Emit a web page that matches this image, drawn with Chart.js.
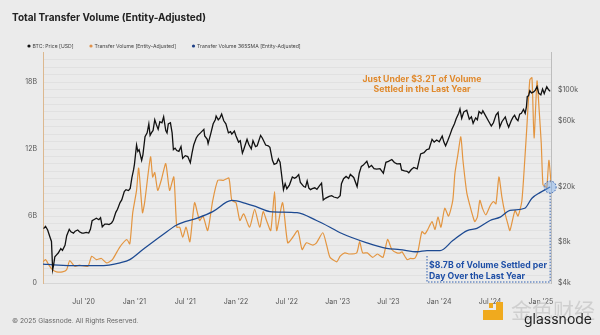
<!DOCTYPE html>
<html>
<head>
<meta charset="utf-8">
<script src="https://cdn.jsdelivr.net/npm/chart.js@4.4.1/dist/chart.umd.min.js"></script>
<style>
  html, body { margin: 0; padding: 0; background: #ebebeb; }
  #wrap { width: 600px; height: 335px; }
</style>
</head>
<body>
<div id="wrap"><canvas id="chart" width="600" height="335"></canvas></div>
<script>
// x values are months since Jan 2020 (6 = Jul '20, 60 = Jan '25)
const btcMonths = [1.27,1.5,1.75,2.0,2.2,2.34,2.45,2.6,2.8,3.0,3.3,3.5,3.8,4.0,4.3,4.5,4.8,5.0,5.3,5.5,5.8,6.0,6.3,6.6,6.8,7.0,7.3,7.5,7.8,8.0,8.2,8.5,8.8,9.0,9.3,9.5,9.8,10.0,10.3,10.5,10.8,11.0,11.3,11.5,11.7,11.9,12.0,12.25,12.4,12.55,12.85,13.0,13.25,13.5,13.7,13.85,14.0,14.2,14.4,14.6,14.8,15.0,15.25,15.45,15.7,15.85,16.0,16.25,16.45,16.6,16.8,17.0,17.25,17.5,17.7,18.0,18.3,18.6,18.8,19.0,19.3,19.5,19.8,20.2,20.3,20.6,20.7,21.0,21.3,21.55,21.65,21.9,22.1,22.3,22.55,22.8,23.1,23.35,23.5,23.8,24.0,24.3,24.5,24.75,24.9,25.3,25.5,25.8,26.0,26.3,26.5,26.9,27.1,27.5,27.8,28.0,28.3,28.5,28.8,29.0,29.2,29.45,29.6,29.8,30.0,30.3,30.65,30.9,31.1,31.4,31.6,32.0,32.2,32.4,32.6,32.8,33.0,33.3,33.55,33.8,34.1,34.3,34.6,35.0,35.3,35.55,36.0,36.3,36.45,36.7,37.0,37.3,37.5,37.9,38.3,38.55,38.8,39.0,39.45,39.7,40.0,40.3,40.6,41.0,41.4,41.7,42.0,42.4,42.7,43.0,43.4,43.55,43.9,44.2,44.4,44.7,45.0,45.4,45.8,46.2,46.5,46.8,47.15,47.4,47.7,48.0,48.35,48.55,48.75,49.0,49.3,49.5,49.8,50.0,50.3,50.45,50.65,50.9,51.25,51.55,51.8,52.0,52.3,52.5,52.7,53.0,53.15,53.4,53.8,54.15,54.4,54.7,54.95,55.15,55.4,55.8,56.0,56.2,56.5,56.7,56.9,57.1,57.3,57.5,57.7,57.95,58.15,58.3,58.4,58.55,58.7,58.9,59.15,59.35,59.55,59.75,60.0,60.2,60.4,60.7,60.9,61.1];
const btcPrice = [9900,10300,9700,8700,8000,5000,5400,6200,6400,6600,7100,6900,7500,8800,9800,9400,9200,9500,9700,9400,9200,9200,9300,9200,9800,11300,11600,11800,11500,11900,10200,10700,10700,10600,10900,11400,13000,13700,15300,16000,18400,19000,18700,19400,23200,26500,29000,40000,36000,37000,31000,34000,46000,49000,57000,47000,49000,51000,61000,56000,52000,59000,58000,64000,51000,49000,57000,58000,49000,37000,38000,36500,36000,39000,32000,33500,33000,29800,35000,40000,45000,47000,49000,52000,46500,44000,41000,48000,57000,61000,65000,61000,63000,67000,60000,57000,49000,50000,48000,50500,46500,42000,43000,35000,37000,44000,40500,37500,43000,39000,39500,47000,45000,40000,39500,38500,31000,29000,29500,31800,30000,22500,19000,21000,19300,20500,23500,23000,23300,24400,21400,20000,19800,22000,19500,19000,19300,19600,19100,20100,21200,16000,16500,17000,17200,16800,16500,17200,21000,22800,23700,22900,24500,23300,20000,25000,28000,28500,30500,27500,28500,27000,26800,27000,25000,30000,30500,31400,29900,29200,29300,26400,26000,25800,25200,26600,27500,26900,34500,35200,37000,37500,44000,42000,43500,42300,46500,42000,39500,43000,48000,52000,57000,62000,68000,73000,62500,69500,71500,61500,64000,57500,63000,61000,70000,67500,71000,66500,60000,55000,58000,66000,69000,54000,59000,64000,58000,53900,60000,63500,65800,62000,60000,67000,68000,72500,68000,76000,90000,91000,99000,95500,97000,100000,106000,95000,92500,102000,94500,106000,101000,98000];

// Transfer Volume (Entity-Adjusted), billions USD
const volMonths = [1.2,1.5,1.9,2.3,2.8,3.5,4.0,4.35,4.95,5.5,6.5,6.95,7.5,8.1,8.7,9.4,10.25,11.1,11.45,11.8,12.25,12.5,12.95,13.2,13.9,14.15,14.4,14.75,15.2,15.7,16.15,16.65,17.0,17.35,17.7,18.1,18.55,19.1,19.7,20.1,20.65,21.25,21.85,22.5,23.15,23.5,24.0,24.45,24.9,25.6,26.2,26.8,27.2,27.6,28.1,28.55,28.8,29.5,30.1,30.7,31.3,31.8,32.3,33.05,33.5,34.25,34.7,35.1,35.9,36.3,36.85,37.4,38.25,38.6,38.95,39.5,40.15,40.7,41.35,41.9,42.4,43.0,43.4,43.6,44.2,44.6,45.1,45.5,45.95,46.3,46.65,47.15,47.5,47.85,48.2,48.65,49.1,49.6,49.85,50.2,50.55,50.8,51.25,51.6,52.0,52.2,52.5,52.8,53.1,53.5,54.0,54.4,54.7,55.05,55.4,55.75,56.1,56.35,56.95,57.3,57.75,58.1,58.35,58.7,58.95,59.2,59.55,59.8,60.05,60.25,60.5,60.7,60.95,61.2];
const volValue = [1.9,2.1,1.6,1.2,1.0,1.0,1.2,2.0,1.5,1.6,1.5,2.4,2.1,2.2,1.8,2.1,3.2,3.9,3.5,6.3,8.3,10.3,6.3,7.2,11.3,9.5,9.9,8.3,9.3,10.7,8.3,9.5,5.0,5.0,4.1,5.0,3.7,7.2,5.6,6.0,4.7,7.4,9.2,9.2,9.4,7.4,7.2,5.6,6.2,5.0,6.6,5.0,6.4,5.6,4.7,8.2,4.7,7.2,3.6,4.1,4.7,3.0,3.6,3.4,3.6,4.5,3.4,2.3,1.9,2.4,2.7,2.6,2.7,3.7,2.7,2.7,2.3,2.6,2.3,3.9,3.0,2.7,2.7,2.8,2.1,2.2,2.2,2.9,4.6,4.4,4.8,5.5,4.8,5.9,5.0,6.7,6.0,7.4,9.8,11.5,13.1,11.0,8.1,7.0,5.9,5.5,5.9,7.4,6.7,6.1,6.9,7.3,7.1,9.5,7.7,6.3,5.3,4.7,6.5,6.0,7.3,11.0,14.0,18.2,18.4,13.0,18.1,15.5,12.5,8.8,8.7,8.5,11.0,9.0];

// Transfer Volume 365SMA, billions USD
const smaMonths = [1.2,3.0,5.0,7.5,9.0,10.3,11.45,13.0,15.3,17.0,19.35,21.25,23.5,25.3,26.5,28.0,31.2,33.5,35.1,36.3,39.45,41.8,43.35,45.4,46.55,48.1,49.6,51.3,52.45,54.0,55.2,56.35,58.1,58.95,59.9,61.1];
const smaValue = [1.7,1.6,1.55,1.55,1.6,1.8,2.1,3.0,4.3,5.2,5.8,6.4,7.4,7.1,6.8,6.4,6.3,5.6,5.0,4.5,3.6,3.1,3.0,2.8,2.9,2.9,3.8,4.7,4.9,5.6,5.9,6.5,6.7,7.6,8.1,8.6];

const xTickMonths = [6,12,18,24,30,36,42,48,54,60];
const xTickLabels = ["Jul '20","Jan '21","Jul '21","Jan '22","Jul '22","Jan '23","Jul '23","Jan '24","Jul '24","Jan '25"];
const volTicks = [0,6,12,18];
const volTickLabels = ['0','6B','12B','18B'];
const priceTicks = [4000,8000,20000,60000,100000];
const priceTickLabels = ['$4k','$8k','$20k','$60k','$100k'];

const FONT = 'Inter, "Noto Sans", sans-serif';
const toPoints = (xs, ys) => xs.map((x, i) => ({ x: x, y: ys[i] }));

const decor = {
  id: 'decor',
  beforeDraw(chart) {
    const ctx = chart.ctx;
    ctx.save();
    ctx.fillStyle = '#ebebeb';
    ctx.fillRect(0, 0, chart.width, chart.height);
    ctx.restore();
  },
  afterDraw(chart) {
    const ctx = chart.ctx;
    ctx.save();
    ctx.textBaseline = 'middle';

    // title
    ctx.fillStyle = '#222';
    ctx.font = 'bold 10px ' + FONT;
    ctx.fillText('Total Transfer Volume (Entity-Adjusted)', 12, 18);

    // legend
    const items = [
      [29, '#111', 'BTC: Price [USD]'],
      [91, '#e0914a', 'Transfer Volume [Entity-Adjusted]'],
      [193.5, '#1d3f86', 'Transfer Volume 365SMA [Entity-Adjusted]']
    ];
    ctx.font = '5.1px ' + FONT;
    items.forEach(([x, c, t]) => {
      ctx.fillStyle = c;
      ctx.beginPath();
      ctx.arc(x, 46, 1.6, 0, Math.PI * 2);
      ctx.fill();
      ctx.fillStyle = '#444';
      ctx.fillText(t, x + 3.5, 46);
    });

    // footer
    ctx.fillStyle = '#666';
    ctx.font = '6.7px ' + FONT;
    ctx.fillText('\u00a9 2025 Glassnode. All Rights Reserved.', 12, 321);

    // logo + watermark
    ctx.fillStyle = '#f0aa1e';
    ctx.fillRect(483, 310, 20, 10);
    ctx.fillRect(496, 302, 7, 18);
    ctx.fillRect(489, 303, 4, 5);
    ctx.fillStyle = 'rgba(200,200,200,0.8)';
    ctx.font = '21px "Noto Sans CJK SC"';
    ctx.fillText('\u91d1\u8272\u8d22\u7ecf', 511, 310);
    ctx.fillStyle = '#222';
    ctx.font = '14px ' + FONT;
    ctx.fillText('glassnode', 524, 320);

    // orange annotation
    ctx.fillStyle = '#e08a2e';
    ctx.font = 'bold 8.7px ' + FONT;
    ctx.textAlign = 'center';
    ctx.fillText('Just Under $3.2T of Volume', 422, 79);
    ctx.fillText('Settled in the Last Year', 422, 89);

    // blue annotation with dotted box and highlighted end point
    const xs = chart.scales.x, ys = chart.scales.yVol;
    const ex = xs.getPixelForValue(smaMonths[smaMonths.length - 1]);
    const ey = ys.getPixelForValue(smaValue[smaValue.length - 1]);
    const by = ys.getPixelForValue(0) - 1;
    ctx.strokeStyle = '#2f5fb0';
    ctx.lineWidth = 1;
    ctx.setLineDash([1.5, 1.5]);
    ctx.beginPath();
    ctx.moveTo(427, 256);
    ctx.lineTo(427, by);
    ctx.lineTo(ex, by);
    ctx.lineTo(ex, ey + 6);
    ctx.stroke();
    ctx.fillStyle = 'rgba(120,170,235,0.45)';
    ctx.beginPath();
    ctx.arc(ex, ey, 6, 0, Math.PI * 2);
    ctx.fill();
    ctx.stroke();
    ctx.setLineDash([]);

    ctx.textAlign = 'left';
    ctx.fillStyle = '#1f4fa6';
    ctx.font = 'bold 8.7px ' + FONT;
    ctx.fillText('$8.7B of Volume Settled per', 429, 265);
    ctx.fillText('Day Over the Last Year', 429, 276);
    ctx.restore();
  }
};

new Chart(document.getElementById('chart'), {
  type: 'line',
  data: {
    datasets: [
      {
        label: 'BTC: Price [USD]',
        data: toPoints(btcMonths, btcPrice),
        yAxisID: 'yPrice',
        borderColor: '#111',
        borderWidth: 1.3,
        tension: 0,
        order: 0
      },
      {
        label: 'Transfer Volume 365SMA [Entity-Adjusted]',
        data: toPoints(smaMonths, smaValue),
        yAxisID: 'yVol',
        borderColor: '#1d4a92',
        borderWidth: 1.3,
        cubicInterpolationMode: 'monotone',
        order: 1
      },
      {
        label: 'Transfer Volume [Entity-Adjusted]',
        data: toPoints(volMonths, volValue),
        yAxisID: 'yVol',
        borderColor: '#e39540',
        borderWidth: 1.2,
        tension: 0.2,
        order: 2
      }
    ]
  },
  options: {
    responsive: false,
    animation: false,
    devicePixelRatio: 1,
    layout: { padding: { top: 52, left: 0, right: 0, bottom: 0 } },
    elements: { point: { radius: 0 } },
    plugins: { legend: { display: false }, title: { display: false }, tooltip: { enabled: false } },
    scales: {
      x: {
        type: 'linear',
        min: 1.2,
        max: 61.2,
        grid: { display: false },
        border: { display: true, color: '#d6d6d6' },
        afterBuildTicks: axis => { axis.ticks = xTickMonths.map(v => ({ value: v })); },
        afterFit: axis => { axis.height = 52; },
        ticks: {
          padding: 7,
          autoSkip: false,
          color: '#555',
          font: { family: FONT, size: 7 },
          maxRotation: 0,
          callback: v => xTickLabels[xTickMonths.indexOf(v)]
        }
      },
      yVol: {
        position: 'left',
        min: 0,
        max: 20.7,
        grid: { color: 'rgba(0,0,0,0.04)', drawTicks: false },
        border: { color: '#dcb88f' },
        afterBuildTicks: axis => {
          const t = [];
          for (let i = 0; i <= 30; i++) t.push({ value: i * 2 / 3 });
          axis.ticks = t;
        },
        afterFit: axis => { axis.width = 43; },
        ticks: {
          padding: 6,
          autoSkip: false,
          color: '#555',
          font: { family: FONT, size: 7 },
          callback: v => {
            const i = volTicks.findIndex(t => Math.abs(t - v) < 1e-6);
            return i >= 0 ? volTickLabels[i] : '';
          }
        }
      },
      yPrice: {
        type: 'logarithmic',
        position: 'right',
        min: 4000,
        max: 189000,
        grid: { display: false, drawTicks: false },
        border: { color: '#bdbdbd' },
        afterBuildTicks: axis => { axis.ticks = priceTicks.map(v => ({ value: v })); },
        afterFit: axis => { axis.width = 49; },
        ticks: {
          padding: 7,
          autoSkip: false,
          color: '#555',
          font: { family: FONT, size: 7 },
          callback: v => priceTickLabels[priceTicks.indexOf(v)]
        }
      }
    }
  },
  plugins: [decor]
});
</script>
</body>
</html>
